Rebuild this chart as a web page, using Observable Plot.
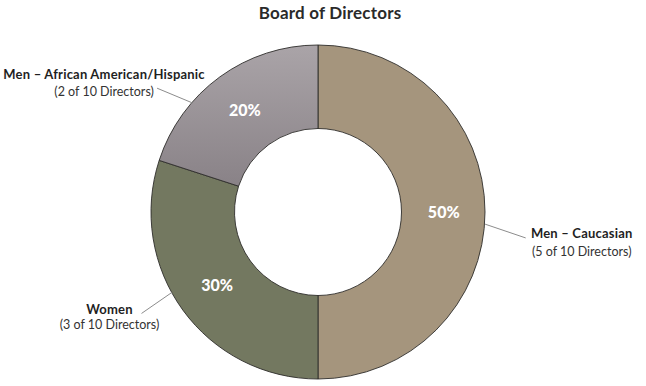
<!DOCTYPE html>
<html>
<head>
<meta charset="utf-8">
<script src="https://cdn.jsdelivr.net/npm/d3@7"></script>
<script src="https://cdn.jsdelivr.net/npm/@observablehq/plot@0.6"></script>
<style>
  html, body { margin: 0; padding: 0; background: #fff; }
  #wrap { position: relative; width: 646px; height: 386px; overflow: hidden; }
  #title { position: absolute; top: 2px; left: 0; width: 660px; text-align: center;
           font: 700 17px Lato, "Open Sans", sans-serif; color: #2a2a2a; letter-spacing: 0.2px; }
  #chart { position: absolute; left: 0; top: 0; }
</style>
</head>
<body>
<div id="wrap">
  <div id="chart"></div>
  <div id="title">Board of Directors</div>
</div>
<script>
// ---- data ----
const categories = ["Men – Caucasian", "Women", "Men – African American/Hispanic"];
const directors = [5, 3, 2];
const totalDirectors = 10;

// ---- styling / layout (not data) ----
const palette = ["#a5957d", "#737860", "url(#afrGrad)"];
const innerRatio = 0.5;
// callout leader angles (degrees, clockwise from 12 o'clock) and text offsets in px
const callouts = [
  { a1: 94,    a2: 97,    r2: 1.25, dx: 56,  dy1: 0,    dy2: 18 },
  { a1: 241.4, a2: 240.3, r2: 1.22, dx: -32, dy1: 0.5,  dy2: 16 },
  { a1: 311,   a2: 307.6, r2: 1.22, dx: -53, dy1: -9.5, dy2: 8 }
];

const rows = categories.map((c, i) => ({
  category: c,
  value: directors[i],
  pct: Math.round(directors[i] / totalDirectors * 100) + "%",
  sub: `(${directors[i]} of ${totalDirectors} Directors)`,
  color: palette[i],
  ...callouts[i]
}));
const arcs = d3.pie().sort(null).value(d => d.value)(rows);
arcs.forEach(a => { a.data.mid = (a.startAngle + a.endAngle) / 2; });

const rad = deg => deg * Math.PI / 180;
const px = (r, ang) => r * Math.sin(ang);
const py = (r, ang) => r * Math.cos(ang);

// donut render mark: uses Plot's x/y scales to place and size the ring
function donut(index, scales) {
  const cx = scales.x(0), cy = scales.y(0), R = scales.x(1) - scales.x(0);
  const g = d3.create("svg:g");
  const defs = g.append("defs");
  const lg = defs.append("linearGradient").attr("id", "afrGrad")
    .attr("x1", 0).attr("y1", 0).attr("x2", 0).attr("y2", 1);
  lg.append("stop").attr("offset", "0%").attr("stop-color", "#aaa4a8");
  lg.append("stop").attr("offset", "100%").attr("stop-color", "#898287");
  const arc = d3.arc().innerRadius(R * innerRatio).outerRadius(R);
  g.attr("transform", `translate(${cx},${cy})`)
    .selectAll("path").data(arcs).join("path")
    .attr("d", arc)
    .attr("fill", d => d.data.color)
    .attr("stroke", "#2e2c2a")
    .attr("stroke-width", 0.9)
    .attr("stroke-linejoin", "round");
  return g.node();
}

const labelMarks = rows.flatMap(d => {
  const ex = px(d.r2, rad(d.a2)), ey = py(d.r2, rad(d.a2));
  return [
    Plot.text([d], { x: () => ex, y: () => ey, text: "category", textAnchor: "middle", lineAnchor: "bottom",
      dx: d.dx, dy: d.dy1, fontWeight: 700, fontSize: 13, fill: "#1f1f1f" }),
    Plot.text([d], { x: () => ex, y: () => ey, text: "sub", textAnchor: "middle", lineAnchor: "bottom",
      dx: d.dx, dy: d.dy2, fontWeight: 400, fontSize: 12.5, fill: "#333" })
  ];
});

const plot = Plot.plot({
  width: 646,
  height: 386,
  marginLeft: 151,
  marginRight: 161,
  marginTop: 45,
  marginBottom: 7,
  x: { domain: [-1, 1], axis: null },
  y: { domain: [-1, 1], axis: null },
  style: { fontFamily: "Lato, 'Open Sans', sans-serif", background: "#fff", overflow: "visible" },
  marks: [
    donut,
    Plot.link(rows, {
      x1: d => px(1, rad(d.a1)), y1: d => py(1, rad(d.a1)),
      x2: d => px(d.r2, rad(d.a2)), y2: d => py(d.r2, rad(d.a2)),
      stroke: "#8c8c8c", strokeWidth: 1
    }),
    Plot.text(rows, {
      x: d => px((1 + innerRatio) / 2, d.mid), y: d => py((1 + innerRatio) / 2, d.mid),
      text: "pct", fill: "#fff", fontWeight: 900, fontSize: 16, textAnchor: "middle", lineAnchor: "middle"
    }),
    ...labelMarks
  ]
});
document.getElementById("chart").appendChild(plot);
// slight letter spacing on category names to match the wider original face
plot.querySelectorAll("text").forEach(t => {
  if (categories.includes(t.textContent)) t.setAttribute("letter-spacing", "0.2");
});
</script>
</body>
</html>
